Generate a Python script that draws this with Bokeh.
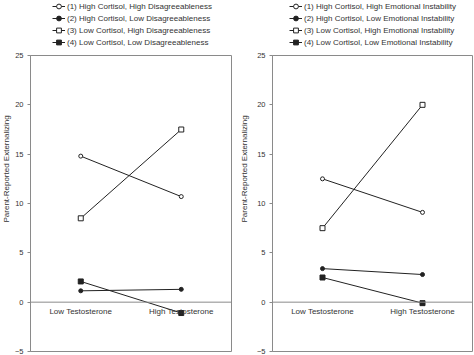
from bokeh.plotting import figure
from bokeh.layouts import row, column
from bokeh.models import (Range1d, FactorRange, FixedTicker, Span, Legend,
                          LegendItem, Title)
from bokeh.core.properties import value
from bokeh.embed import file_html
from bokeh.resources import INLINE

categories = ["Low Testosterone", "High Testosterone"]
y_ticks = [-5, 0, 5, 10, 15, 20, 25]
y_title = "Parent-Reported Externalizing"

left_labels = [
    "(1) High Cortisol, High Disagreeableness",
    "(2) High Cortisol, Low Disagreeableness",
    "(3) Low Cortisol, High Disagreeableness",
    "(4) Low Cortisol, Low Disagreeableness",
]
left_s1 = [14.8, 10.7]
left_s2 = [1.15, 1.3]
left_s3 = [8.5, 17.5]
left_s4 = [2.1, -1.1]

right_labels = [
    "(1) High Cortisol, High Emotional Instability",
    "(2) High Cortisol, Low Emotional Instability",
    "(3) Low Cortisol, High Emotional Instability",
    "(4) Low Cortisol, Low Emotional Instability",
]
right_s1 = [12.5, 9.1]
right_s2 = [3.4, 2.8]
right_s3 = [7.5, 20.0]
right_s4 = [2.5, -0.1]

FONT = "Liberation Sans"
TXT = "#333333"
LINE = "#222222"
FRAME = "#8a8a8a"

markers = [("circle", 4, "white"), ("circle", 4, LINE),
           ("square", 5, "white"), ("square", 5, LINE)]


def make_panel(series, labels, border_left, border_right, legend_x,
               title_standoff, title_valign):
    # legend strip above the plot: same series, drawn outside its visible range
    lg = figure(width=237, height=50, output_backend="svg",
                toolbar_location=None,
                x_range=FactorRange(*categories, range_padding=0),
                y_range=Range1d(1000, 1001), x_axis_location=None,
                y_axis_location=None, min_border=0)
    lg.grid.visible = False
    lg.outline_line_color = None
    items = []
    for vals, lab, (mk, sz, fill) in zip(series, labels, markers):
        r1 = lg.line(categories, vals, line_color=LINE, line_width=1)
        r2 = lg.scatter(categories, vals, marker=mk, size=sz, line_color=LINE,
                        fill_color=fill, line_width=1)
        items.append(LegendItem(label=lab, renderers=[r1, r2]))
    leg = Legend(items=items, location=(legend_x, 2), padding=0, spacing=0,
                 margin=0, glyph_width=13, glyph_height=12, label_height=12,
                 label_standoff=2, label_text_font=FONT,
                 label_text_font_size="8px", label_text_color=TXT,
                 background_fill_alpha=0, border_line_alpha=0)
    lg.add_layout(leg, "center")

    p = figure(width=237, height=305, output_backend="svg",
               toolbar_location=None,
               x_range=FactorRange(*categories, range_padding=0),
               y_range=Range1d(-5, 25), x_axis_location=None,
               min_border_left=border_left, min_border_right=border_right,
               min_border_top=5, min_border_bottom=4)
    p.grid.visible = False
    p.background_fill_color = "white"
    p.border_fill_color = "white"
    p.outline_line_color = FRAME
    p.outline_line_width = 1
    ax = p.yaxis[0]
    ax.ticker = FixedTicker(ticks=y_ticks)
    ax.axis_line_color = FRAME
    ax.major_tick_line_color = FRAME
    ax.major_tick_out = 3
    ax.major_tick_in = 0
    ax.minor_tick_line_color = None
    ax.major_label_text_font = FONT
    ax.major_label_text_font_size = "7.5px"
    ax.major_label_text_color = TXT
    ax.major_label_standoff = 4

    p.add_layout(Span(location=0, dimension="width", line_color=FRAME,
                      line_width=1))

    for vals, (mk, sz, fill) in zip(series, markers):
        p.line(categories, vals, line_color=LINE, line_width=1)
        p.scatter(categories, vals, marker=mk, size=sz, line_color=LINE,
                  fill_color=fill, line_width=1)

    p.text(x=categories, y=[0, 0], text=categories, y_offset=5,
           text_align="center", text_baseline="top",
           text_font=value(FONT), text_font_size="8px", text_color=TXT)

    p.add_layout(Title(text=y_title, align="left", offset=129,
                       standoff=title_standoff, vertical_align=title_valign,
                       text_font=FONT, text_font_size="8px",
                       text_font_style="normal", text_color=TXT), "left")
    return column(lg, p, spacing=0)


left = make_panel([left_s1, left_s2, left_s3, left_s4], left_labels,
                  30, 6, 22, 0, "middle")
right = make_panel([right_s1, right_s2, right_s3, right_s4], right_labels,
                   35, 2, 17, 5, "top")

layout = row(left, right, spacing=0)
open("out.html", "w").write(file_html(layout, INLINE))
